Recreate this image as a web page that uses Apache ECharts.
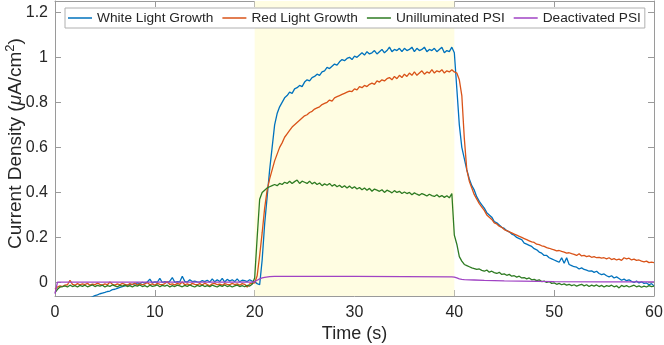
<!DOCTYPE html>
<html>
<head>
<meta charset="utf-8">
<script src="https://cdn.jsdelivr.net/npm/echarts@6/dist/echarts.min.js"></script>
<style>
html,body{margin:0;padding:0;background:#fff;}
#c{width:664px;height:345px;}
</style>
</head>
<body>
<div id="c"></div>
<script>
// Time grid: samples every 0.25 s from 0 to 60 s
const tStart = 0, tStep = 0.25;

const seriesNames = ['White Light Growth', 'Red Light Growth', 'Unilluminated PSI', 'Deactivated PSI'];

const whiteLight = [
 -0.13,-0.125,-0.12,-0.118, -0.112,-0.108,-0.105,-0.1, -0.097,-0.092,-0.088,-0.085, -0.08,-0.075,-0.068,-0.064,
 -0.058,-0.055,-0.05,-0.047, -0.044,-0.04,-0.038,-0.032, -0.03,-0.026,-0.022,-0.018, -0.015,-0.012,-0.01,-0.008,
 -0.006,-0.002,-0.005,0.001, -0.003,0.002,0.015,-0.002, 0.003,0.001,0.018,0.0, 0.004,-0.001,0.006,0.022,
 0.001,0.004,0.003,0.028, 0.005,0.002,0.012,0.004, 0.006,0.003,0.002,0.008, 0.004,0.01,0.002,0.016,
 0.003,0.012,0.004,0.018, 0.002,0.014,0.006,0.012, 0.004,0.016,0.003,0.01, 0.008,0.004,0.012,0.006,
 0.003,-0.005,-0.01,0.1, 0.26,0.38,0.5,0.6, 0.7,0.75,0.78,0.8, 0.82,0.83,0.845,0.84,
 0.86,0.865,0.875,0.87, 0.89,0.9,0.895,0.91, 0.915,0.925,0.92,0.935, 0.94,0.955,0.95,0.96,
 0.97,0.965,0.98,0.99, 0.985,0.995,1.0,0.99, 1.005,1.0,1.01,1.02, 1.01,1.025,1.015,1.02,
 1.03,1.015,1.025,1.035, 1.02,1.03,1.045,1.025, 1.035,1.03,1.04,1.025, 1.04,1.03,1.035,1.045,
 1.025,1.04,1.03,1.035, 1.045,1.025,1.035,1.03, 1.04,1.025,1.035,1.045, 1.02,1.03,1.025,1.045,
 1.02,0.86,0.7,0.6, 0.55,0.5,0.46,0.43, 0.41,0.38,0.36,0.345, 0.33,0.31,0.3,0.29,
 0.27,0.265,0.255,0.245, 0.24,0.23,0.225,0.215, 0.21,0.2,0.195,0.19, 0.175,0.17,0.165,0.16,
 0.15,0.145,0.135,0.13, 0.12,0.12,0.11,0.105, 0.1,0.095,0.09,0.11, 0.085,0.11,0.08,0.075,
 0.07,0.068,0.06,0.065, 0.058,0.055,0.05,0.052, 0.045,0.05,0.04,0.035, 0.038,0.03,0.025,0.03,
 0.02,0.025,0.018,0.01, 0.015,0.008,0.012,0.005, 0.0,0.006,-0.002,0.003, -0.004,-0.002,-0.01,-0.005,
 -0.015
];

const redLight = [
 -0.03,-0.02,-0.015,-0.018, -0.012,-0.01,0.01,-0.008, -0.012,-0.005,-0.01,-0.006, -0.009,-0.004,-0.012,-0.007,
 -0.01,-0.003,-0.008,-0.012, -0.006,-0.01,0.002,-0.008, -0.012,-0.006,-0.01,-0.004, -0.008,-0.012,-0.005,-0.009,
 -0.003,-0.011,-0.006,-0.01, -0.007,0.0,-0.01,-0.006, -0.012,-0.004,-0.008,-0.01, -0.005,0.004,-0.009,-0.006,
 -0.011,-0.004,-0.008,0.002, -0.01,-0.006,-0.012,-0.004, -0.008,-0.01,-0.005,-0.011, -0.003,-0.009,-0.015,-0.006,
 -0.004,-0.01,-0.007,-0.012, -0.005,-0.008,-0.01,-0.004, -0.009,-0.006,-0.012,-0.005, -0.008,-0.02,-0.006,-0.004,
 -0.002,0.03,0.12,0.22, 0.33,0.41,0.46,0.5, 0.54,0.57,0.6,0.62, 0.645,0.66,0.675,0.69,
 0.7,0.71,0.72,0.73, 0.74,0.745,0.755,0.76, 0.77,0.775,0.78,0.79, 0.795,0.8,0.81,0.805,
 0.82,0.825,0.83,0.835, 0.84,0.845,0.85,0.848, 0.86,0.855,0.87,0.865, 0.875,0.87,0.88,0.885,
 0.88,0.895,0.89,0.9, 0.895,0.905,0.91,0.9, 0.915,0.905,0.92,0.91, 0.925,0.915,0.93,0.92,
 0.935,0.92,0.93,0.94, 0.925,0.935,0.93,0.945, 0.93,0.94,0.935,0.945, 0.93,0.94,0.935,0.945,
 0.935,0.93,0.9,0.83, 0.64,0.5,0.45,0.42, 0.39,0.37,0.35,0.335, 0.32,0.3,0.29,0.28,
 0.265,0.26,0.25,0.245, 0.235,0.23,0.225,0.22, 0.215,0.21,0.205,0.2, 0.195,0.19,0.185,0.18,
 0.178,0.17,0.168,0.163, 0.16,0.155,0.152,0.148, 0.145,0.14,0.142,0.138, 0.135,0.13,0.132,0.128,
 0.125,0.12,0.128,0.118, 0.12,0.115,0.118,0.112, 0.115,0.11,0.112,0.108, 0.11,0.105,0.11,0.102,
 0.106,0.1,0.104,0.098, 0.11,0.105,0.108,0.1, 0.104,0.098,0.1,0.095, 0.092,0.095,0.088,0.09,
 0.088
];

const unilluminated = [
 -0.045,-0.03,-0.02,-0.018, -0.015,-0.02,-0.012,-0.018, -0.014,-0.02,-0.013,-0.017, -0.012,-0.019,-0.015,-0.011,
 -0.018,-0.013,-0.016,-0.012, -0.02,-0.014,-0.017,-0.011, -0.015,-0.019,-0.013,-0.016, -0.012,-0.018,-0.014,-0.02,
 -0.013,-0.016,-0.011,-0.018, -0.014,-0.02,-0.012,-0.017, -0.015,-0.011,-0.019,-0.013, -0.016,-0.012,-0.02,-0.014,
 -0.018,-0.012,-0.015,-0.019, -0.013,-0.017,-0.011,-0.016, -0.02,-0.013,-0.017,-0.012, -0.018,-0.014,-0.019,-0.012,
 -0.016,-0.02,-0.013,-0.017, -0.011,-0.018,-0.014,-0.02, -0.015,-0.012,-0.018,-0.014, -0.019,-0.013,-0.016,-0.008,
 0.02,0.2,0.37,0.4, 0.41,0.42,0.425,0.43, 0.435,0.43,0.44,0.435, 0.445,0.44,0.45,0.44,
 0.448,0.455,0.44,0.45, 0.445,0.44,0.45,0.438, 0.445,0.435,0.442,0.43, 0.438,0.432,0.44,0.428,
 0.435,0.425,0.432,0.422, 0.43,0.42,0.428,0.418, 0.425,0.415,0.422,0.412, 0.42,0.41,0.418,0.405,
 0.415,0.41,0.405,0.412, 0.4,0.41,0.405,0.398, 0.408,0.4,0.405,0.395, 0.402,0.395,0.4,0.39,
 0.398,0.392,0.387,0.395, 0.39,0.384,0.392,0.386, 0.382,0.39,0.38,0.386, 0.378,0.385,0.376,0.395,
 0.21,0.17,0.115,0.095, 0.08,0.075,0.07,0.065, 0.062,0.058,0.06,0.054, 0.05,0.055,0.046,0.05,
 0.044,0.04,0.045,0.036, 0.038,0.032,0.036,0.028, 0.03,0.024,0.028,0.02, 0.022,0.016,0.02,0.012,
 0.014,0.008,0.012,0.004, 0.006,0.0,0.004,-0.004, -0.002,-0.008,-0.004,-0.01, -0.006,-0.012,-0.008,-0.014,
 -0.01,-0.016,-0.012,-0.008, -0.015,-0.01,-0.018,-0.012, -0.016,-0.011,-0.018,-0.013, -0.02,-0.014,-0.017,-0.012,
 -0.019,-0.015,-0.024,-0.013, -0.018,-0.014,-0.02,-0.016, -0.012,-0.019,-0.015,-0.021, -0.016,-0.02,-0.014,-0.018,
 -0.016
];

// Deactivated PSI: smooth trace, sampled at its own time points
const deactTime = [0, 0.25, 5, 10, 15, 19.75, 20, 20.25, 20.5, 20.75, 21, 21.5, 22, 25, 30, 35, 39.75, 40, 40.25, 40.5, 40.75, 41, 42, 43, 45, 50, 55, 60];
const deactVals = [-0.05, 0.002, 0.002, 0.002, 0.002, 0.002, 0.004, 0.01, 0.016, 0.02, 0.023, 0.026, 0.027, 0.027, 0.027, 0.026, 0.025, 0.024, 0.02, 0.016, 0.014, 0.013, 0.011, 0.009, 0.007, 0.004, 0.003, 0.003];

const xTicks = [0, 10, 20, 30, 40, 50, 60];
const yTicks = [0, 0.2, 0.4, 0.6, 0.8, 1, 1.2];
const lightOn = [20, 40];

function pairs(vals) {
  return vals.map((v, i) => [tStart + i * tStep, v]);
}

const colors = ['#0072BD', '#D95319', '#2E7B22', '#A043C4'];
const font = '"Liberation Sans", Arial, Helvetica, sans-serif';
const axisGray = '#9a9a9a';
const textCol = '#262626';

const chart = echarts.init(document.getElementById('c'), null, {renderer: 'canvas'});

function lineSeries(name, data, color) {
  return {
    name: name, type: 'line', data: data, symbol: 'none', showSymbol: false,
    lineStyle: {width: 1.3, color: color}, itemStyle: {color: color},
    animation: false, clip: true, z: 3
  };
}

const option = {
  animation: false,
  textStyle: {fontFamily: font},
  grid: {left: 55, right: 10, top: 1, bottom: 49, containLabel: false, outerBoundsMode: 'none'},
  legend: {
    data: seriesNames,
    left: 65, top: 8,
    orient: 'horizontal',
    icon: 'rect',
    itemWidth: 24, itemHeight: 1.5, itemGap: 9,
    padding: [3, 4, 3, 3],
    borderColor: '#b0b0b0', borderWidth: 1, backgroundColor: '#ffffff',
    textStyle: {fontSize: 13.7, color: textCol, fontFamily: font},
    selectedMode: false
  },
  xAxis: [{
    type: 'value', min: 0, max: 60, interval: 10, position: 'bottom',
    name: 'Time (s)', nameLocation: 'middle', nameGap: 29, nameMoveOverlap: false,
    nameTextStyle: {fontSize: 18, color: textCol, fontFamily: font},
    axisLine: {show: true, onZero: false, lineStyle: {color: axisGray, width: 1}},
    axisTick: {show: true, inside: true, length: 6, lineStyle: {color: axisGray}},
    axisLabel: {fontSize: 16, color: textCol, margin: 9, fontFamily: font},
    splitLine: {show: false}
  }, {
    type: 'value', min: 0, max: 60, interval: 10, position: 'top',
    axisLine: {show: true, onZero: false, lineStyle: {color: axisGray, width: 1}},
    axisTick: {show: true, inside: true, length: 6, lineStyle: {color: axisGray}},
    axisLabel: {show: false}, splitLine: {show: false}
  }],
  yAxis: [{
    type: 'value', min: -0.06, max: 1.25, position: 'left',
    name: '{a|Current Density (}{mu|μ}{a|A/cm}{sup|2}{a|)}',
    nameLocation: 'middle', nameGap: 30, nameRotate: 90, nameMoveOverlap: false,
    nameTextStyle: {
      color: textCol, fontFamily: font, padding: [0, 0, 0, 10],
      rich: {
        a: {fontSize: 19, color: textCol, fontFamily: font, lineHeight: 21, verticalAlign: 'bottom'},
        mu: {fontSize: 19, color: textCol, fontFamily: font, fontStyle: 'italic', lineHeight: 21, verticalAlign: 'bottom'},
        sup: {fontSize: 13, color: textCol, fontFamily: font, lineHeight: 21, verticalAlign: 'top'}
      }
    },
    axisLine: {show: true, onZero: false, lineStyle: {color: axisGray, width: 1}},
    axisTick: {show: true, inside: true, length: 6, lineStyle: {color: axisGray}, customValues: yTicks},
    axisLabel: {fontSize: 16, color: textCol, margin: 7, fontFamily: font, customValues: yTicks,
      formatter: v => String(Math.round(v * 10) / 10)},
    splitLine: {show: false}
  }, {
    type: 'value', min: -0.06, max: 1.25, position: 'right',
    axisLine: {show: true, onZero: false, lineStyle: {color: axisGray, width: 1}},
    axisTick: {show: true, inside: true, length: 6, lineStyle: {color: axisGray}, customValues: yTicks},
    axisLabel: {show: false}, splitLine: {show: false}
  }],
  series: [
    {
      name: 'shade', type: 'line', data: [], silent: true, z: 1,
      markArea: {
        silent: true,
        itemStyle: {color: '#FFFDE2'},
        data: [[{xAxis: lightOn[0]}, {xAxis: lightOn[1]}]]
      }
    },
    lineSeries(seriesNames[0], pairs(whiteLight), colors[0]),
    lineSeries(seriesNames[1], pairs(redLight), colors[1]),
    lineSeries(seriesNames[2], pairs(unilluminated), colors[2]),
    lineSeries(seriesNames[3], deactTime.map((t, i) => [t, deactVals[i]]), colors[3])
  ]
};
chart.setOption(option);
</script>
</body>
</html>
